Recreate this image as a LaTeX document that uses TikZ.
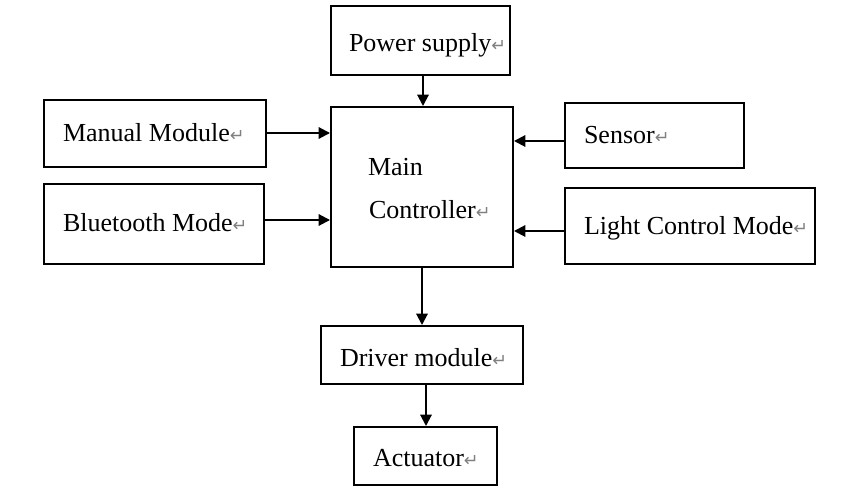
\documentclass[tikz,border=0pt]{standalone}
\usepackage{fontspec}
\setmainfont{Liberation Serif}
\newfontfamily\retfont{DejaVu Sans}
\usetikzlibrary{arrows.meta}
\newcommand{\ret}{{\retfont\color{gray}\fontsize{10}{10}\selectfont ↵}}

\begin{document}
\begin{tikzpicture}[x=0.02cm,y=-0.02cm, line width=0.04cm, >={Triangle[length=6.5pt,width=6.5pt]},
        box/.style 2 args={draw, minimum width=#1cm, minimum height=#2cm, inner sep=0pt},
        lbl/.style={anchor=base west, inner sep=0pt, font=\fontsize{14.8}{17}\selectfont}]
    \useasboundingbox (0,0) rectangle (865,496);
    % boxes
    \node[box={3.58}{1.38}] (pw) at (420.5,40.5) {};
    \node[box={3.64}{3.2}] (main) at (422,187) {};
    \node[box={4.44}{1.34}] (man) at (155,133.5) {};
    \node[box={4.40}{1.60}] (bt) at (154,224) {};
    \node[box={3.58}{1.30}] (sen) at (654.5,135.5) {};
    \node[box={5.00}{1.52}] (lc) at (690,226) {};
    \node[box={4.04}{1.16}] (drv) at (422,355) {};
    \node[box={2.86}{1.16}] (act) at (425.5,456) {};
    % texts
    \node[lbl] (pwtxt) at (348,52) {Power supply\ret};
    \node[lbl] (maintxt) at (367,176) {Main};
    \node[lbl] (ctrltxt) at (368,219) {Controller\ret};
    \node[lbl] (mantxt) at (62,142) {Manual Module\ret};
    \node[lbl] (bttxt) at (62,232) {Bluetooth Mode\ret};
    \node[lbl] (sentxt) at (583,144) {Sensor\ret};
    \node[lbl] (lctxt) at (583,235) {Light Control Mode\ret};
    \node[lbl] (drvtxt) at (339,366) {Driver module\ret};
    \node[lbl] (acttxt) at (372,466) {Actuator\ret};
    % arrows
    \draw[->] ([xshift=0.05cm]pw.south) -- ([xshift=0.05cm]pw.south |- main.north);
    \draw[->] ([yshift=0.01cm]man.east) -- ([yshift=0.01cm]man.east -| main.west);
    \draw[->] ([yshift=0.08cm]bt.east) -- ([yshift=0.08cm]bt.east -| main.west);
    \draw[->] ([yshift=-0.11cm]sen.west) -- ([yshift=-0.11cm]sen.west -| main.east);
    \draw[->] ([yshift=-0.1cm]lc.west) -- ([yshift=-0.1cm]lc.west -| main.east);
    \draw[->] (main.south) -- (drv.north);
    \draw[->] ([xshift=0.01cm]act.north |- drv.south) -- ([xshift=0.01cm]act.north);
\end{tikzpicture}
\end{document}
